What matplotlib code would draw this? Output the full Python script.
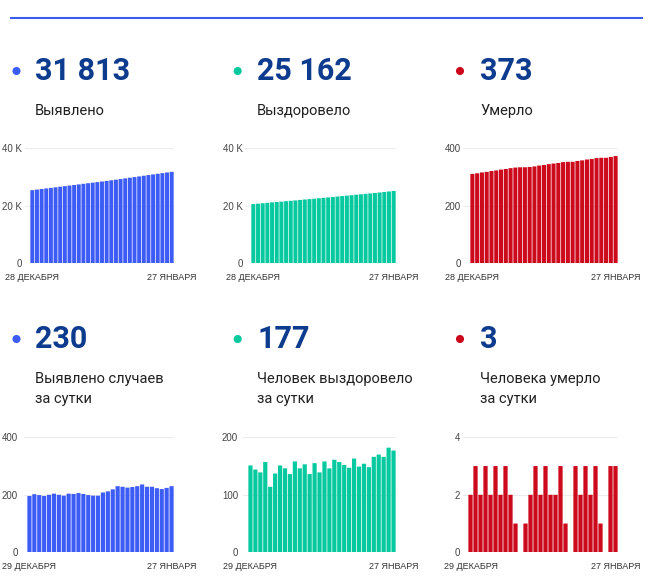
import numpy as np
import matplotlib
matplotlib.use('Agg')
import matplotlib.pyplot as plt

plt.rcParams['font.family'] = ['Roboto', 'DejaVu Sans']

W, H = 653, 579

# cumulative totals, 28 Dec .. 27 Jan
total_cases = [25442, 25638, 25840, 26039, 26235, 26435, 26639, 26839, 27036, 27240,
               27443, 27649, 27852, 28051, 28248, 28445, 28653, 28865, 29084, 29314,
               29542, 29767, 29994, 30224, 30460, 30688, 30916, 31139, 31359, 31583, 31813]
total_recovered = [20604, 20755, 20899, 21038, 21195, 21309, 21446, 21597, 21743, 21879,
                   22037, 22183, 22336, 22472, 22627, 22766, 22924, 23070, 23231, 23388,
                   23540, 23687, 23850, 23999, 24153, 24301, 24467, 24637, 24803, 24985, 25162]
total_deaths = [311, 313, 316, 318, 321, 323, 326, 328, 331, 333,
                334, 334, 335, 337, 340, 342, 345, 347, 349, 352,
                353, 353, 356, 358, 361, 363, 366, 367, 367, 370, 373]

# daily values, 29 Dec .. 27 Jan
daily_cases = [196, 202, 199, 196, 200, 204, 200, 197, 204, 203,
               206, 203, 199, 197, 197, 208, 212, 219, 230, 228,
               225, 227, 230, 236, 228, 228, 223, 220, 224, 230]
daily_recovered = [151, 144, 139, 157, 114, 137, 151, 146, 136, 158,
                   146, 153, 136, 155, 139, 158, 146, 161, 157, 152,
                   147, 163, 149, 154, 148, 166, 170, 166, 182, 177]
daily_deaths = [2, 3, 2, 3, 2, 3, 2, 3, 2, 1,
                0, 1, 2, 3, 2, 3, 2, 2, 3, 1,
                0, 3, 2, 3, 2, 3, 1, 0, 3, 3]

labels = ['Выявлено', 'Выздоровело', 'Умерло',
          'Выявлено случаев\nза сутки', 'Человек выздоровело\nза сутки', 'Человека умерло\nза сутки']
top_dates = ['28 ДЕКАБРЯ', '27 ЯНВАРЯ']
bottom_dates = ['29 ДЕКАБРЯ', '27 ЯНВАРЯ']

big_ticks = [0, 20000, 40000]
big_ticklabels = ['0', '20 K', '40 K']
deaths_ticks = [0, 200, 400]
cases_ticks = [0, 200, 400]
rec_ticks = [0, 100, 200]
ddeaths_ticks = [0, 2, 4]

blue = '#3d5cf5'
green = '#06c9a0'
red = '#cc0a1c'
navy = '#0d3b8e'

panels = [
    # series, color, ticks, ticklabels, dates, col, row, grid_x0, bars_x0, bars_x1, label_gap
    (total_cases, blue, big_ticks, big_ticklabels, top_dates, 0, 0, 25, 30, 174, 3),
    (total_recovered, green, big_ticks, big_ticklabels, top_dates, 1, 0, 245, 251, 396, 2),
    (total_deaths, red, deaths_ticks, None, top_dates, 2, 0, 463, 470, 618, 2),
    (daily_cases, blue, cases_ticks, None, bottom_dates, 0, 1, 24, 27, 174, 6),
    (daily_recovered, green, rec_ticks, None, bottom_dates, 1, 1, 243, 248, 396, 5),
    (daily_deaths, red, ddeaths_ticks, None, bottom_dates, 2, 1, 463, 468, 618, 3),
]

dot_x = [16.5, 237.7, 460]
text_x = [35, 257, 480]
row_off = [0, 268]
chart_top = [148.3, 437.3]
chart_bottom = [263.3, 552.3]

tick_font = ['Liberation Sans', 'DejaVu Sans']

fig = plt.figure(figsize=(W / 100, H / 100), dpi=100)
fig.patch.set_facecolor('white')

# background layer in pixel coordinates
bg = fig.add_axes([0, 0, 1, 1])
bg.set_xlim(0, W)
bg.set_ylim(H, 0)
bg.axis('off')
bg.plot([10, 643], [17.5, 17.5], color='#3a5df0', lw=1.5, solid_capstyle='butt')

for i, (series, color, ticks, ticklabels, dates, col, row, gx0, bx0, bx1, gap) in enumerate(panels):
    off = row_off[row]
    bg.scatter([dot_x[col]], [71 + off], s=34, color=color, edgecolor='none')
    value = f"{series[-1]:,}".replace(',', ' ')
    bg.text(text_x[col], 80 + off, value, fontsize=22, fontweight='bold',
            color=navy, va='baseline', ha='left')
    lines = labels[i].split('\n')
    for j, line in enumerate(lines):
        bg.text(text_x[col], 115 + off + j * 20, line, fontsize=10.5,
                color='#212121', va='baseline', ha='left')

    ytop, y0 = chart_top[row], chart_bottom[row]
    ax = fig.add_axes([gx0 / W, 1 - y0 / H, (bx1 - gx0) / W, (y0 - ytop) / H])
    n = len(series)
    unit = (bx1 - bx0) / n
    x = np.arange(n)
    bars = ax.bar(x, series, width=0.85, color=color, zorder=2, linewidth=0)
    for b in bars:
        b.set_snap(False)
    ax.set_xlim(-0.5 - (bx0 - gx0) / unit, n - 0.5)
    ax.set_ylim(0, ticks[-1])
    ax.set_yticks(ticks)
    ax.set_yticklabels(ticklabels if ticklabels else [str(t) for t in ticks],
                       family=tick_font)
    ax.set_xticks([0, n - 1])
    ax.set_xticklabels(dates, family=tick_font)
    ax.grid(axis='y', color='#ececec', lw=0.8, zorder=0)
    for s in ax.spines.values():
        s.set_visible(False)
    ax.tick_params(axis='y', length=0, pad=gap * 0.72, labelsize=7, labelcolor='#444444')
    ax.tick_params(axis='x', length=0, pad=7, labelsize=6.5, labelcolor='#333333')
    ax.set_facecolor('none')

fig.savefig('out.png', dpi=100, facecolor='white')
